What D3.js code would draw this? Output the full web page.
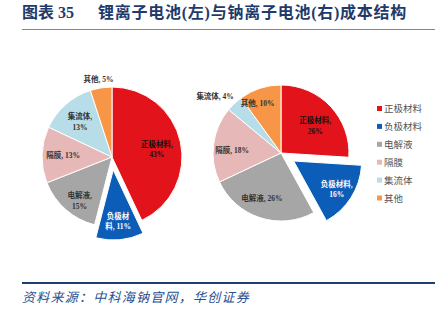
<!DOCTYPE html>
<html><head><meta charset="utf-8">
<script src="https://cdn.jsdelivr.net/npm/d3@7"></script>
<style>html,body{margin:0;padding:0;background:#fff;}svg{display:block;}</style>
</head><body>
<svg id="c" width="447" height="324"></svg>
<script>
const categories = ["正极材料", "负极材料", "电解液", "隔膜", "集流体", "其他"];
const liIonValues = [43, 11, 15, 13, 13, 5];
const naIonValues = [26, 16, 26, 18, 4, 10];
const colors = ["#E3131B", "#0B5DB7", "#A6A6A6", "#E6B9B8", "#B7DDE8", "#F79646"];
const titleLeft = "图表 35";
const titleRight = "锂离子电池(左)与钠离子电池(右)成本结构";
const sourceText = "资料来源：中科海钠官网，华创证券";

// layout config (not data)
const leftCfg = {cx:112, cy:157, r:70, explode:13, labelR:[0.65,0.74,0.78,0.70,0.68,1.12], breakAt:[5,3,4,null,4,null], angNudge:[3,0,-5,0,-1,-1]};
const rightCfg = {cx:281, cy:153, r:68, explode:15, labelR:[0.64,0.76,0.72,0.72,1.28,0.81], breakAt:[5,5,null,null,null,null], angNudge:[5,1,5,-4,-6,-7]};
const labelFill = ["#111", "#fff", "#333", "#333", "#333", "#333"];

const svg = d3.select("#c");
const font = "'Liberation Serif','Noto Sans CJK SC',serif";

// title
const title = svg.append("text").attr("y", 18).attr("fill", "#1F3B6B")
  .attr("font-family", "'Liberation Serif','Noto Sans CJK SC',serif").attr("font-weight", "bold").attr("font-size", 16);
title.append("tspan").attr("x", 22).text(titleLeft);
title.append("tspan").attr("x", 98).attr("letter-spacing", 0.75).text(titleRight);
svg.append("line").attr("x1", 22).attr("x2", 435).attr("y1", 29.5).attr("y2", 29.5)
  .attr("stroke", "#6F8DB3").attr("stroke-width", 1);

function drawPie(values, cfg) {
  const data = values.map((v, i) => ({name: categories[i], value: v, i}));
  const pie = d3.pie().sort(null).value(d => d.value)(data);
  const arc = d3.arc().innerRadius(0).outerRadius(cfg.r);
  const g = svg.append("g").attr("transform", `translate(${cfg.cx},${cfg.cy})`);
  pie.forEach(p => {
    const mid = (p.startAngle + p.endAngle) / 2;
    const off = p.data.i === 1 ? cfg.explode : 0;
    const ox = Math.sin(mid) * off, oy = -Math.cos(mid) * off;
    const sg = g.append("g").attr("transform", `translate(${ox},${oy})`);
    sg.append("path").attr("d", arc(p)).attr("fill", colors[p.data.i])
      .attr("stroke", "#fff").attr("stroke-width", 1);
    const la = mid + cfg.angNudge[p.data.i] * Math.PI / 180;
    const lr = cfg.r * cfg.labelR[p.data.i];
    const lx = Math.sin(la) * lr, ly = -Math.cos(la) * lr;
    const full = p.data.name + ", " + p.data.value + "%";
    const b = cfg.breakAt[p.data.i];
    const lines = b == null ? [full] : [full.slice(0, b), full.slice(b).trim()];
    const t = sg.append("text").attr("text-anchor", "middle").attr("font-family", font)
      .attr("font-size", 7.5).attr("font-weight", 600).attr("fill", labelFill[p.data.i]);
    const lh = 10.5;
    lines.forEach((s, k) => {
      t.append("tspan").attr("x", lx).attr("y", ly + 2.5 + (k - (lines.length - 1) / 2) * lh).text(s);
    });
  });
}
drawPie(liIonValues, leftCfg);
drawPie(naIonValues, rightCfg);

// legend
const lg = svg.append("g").attr("transform", "translate(377,109)");
categories.forEach((c, i) => {
  const row = lg.append("g").attr("transform", `translate(0,${i * 17.9})`);
  row.append("rect").attr("x", 0).attr("y", -3).attr("width", 5).attr("height", 5).attr("fill", colors[i]);
  row.append("text").attr("x", 7).attr("y", 3.3).attr("font-size", 9.5)
    .attr("font-family", "'Noto Sans CJK SC',sans-serif").attr("fill", "#555").text(c);
});

// footer
svg.append("line").attr("x1", 22).attr("x2", 435).attr("y1", 283).attr("y2", 283)
  .attr("stroke", "#1F3F70").attr("stroke-width", 2);
svg.append("text").attr("x", 22).attr("y", 302).attr("font-size", 13).attr("font-style", "italic")
  .attr("letter-spacing", 1.25)
  .attr("font-family", "'Noto Sans CJK SC',sans-serif").attr("fill", "#2A4E8F").text(sourceText);
</script>
</body></html>
